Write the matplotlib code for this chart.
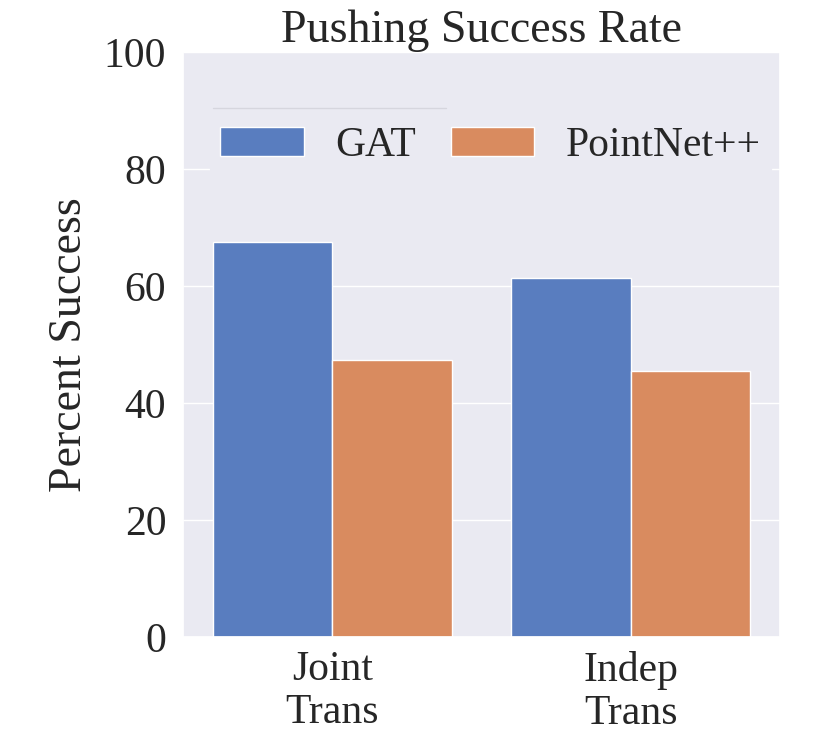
import matplotlib
matplotlib.use("Agg")
import matplotlib.pyplot as plt
import numpy as np
import seaborn as sns

categories = ["Joint\nTrans", "Indep\nTrans"]
methods = ["GAT", "PointNet++"]
success = {
    "GAT": [67.5, 61.4],
    "PointNet++": [47.3, 45.5],
}
y_ticks = [0, 20, 40, 60, 80, 100]

sns.set_theme(style="darkgrid")
plt.rcParams["font.family"] = ["Liberation Serif", "DejaVu Serif"]

palette = [sns.desaturate(c, 0.75) for c in sns.color_palette("muted", 2)]

fig = plt.figure(figsize=(8.3, 7.35), dpi=100)
ax = fig.add_axes([0.2205, 0.1333, 0.7193, 0.7960])

x = np.arange(len(categories))
width = 0.4
for k, (method, color) in enumerate(zip(methods, palette)):
    offset = (k - 0.5) * width
    ax.bar(x + offset, success[method], width, color=color, label=method,
           edgecolor="white", linewidth=1.0)

ax.set_xlim(-0.5, len(categories) - 0.5)
ax.set_ylim(0, 100)
ax.set_yticks(y_ticks)
ax.set_xticks(x, categories)
ax.grid(False, axis="x")
ax.tick_params(axis="y", labelsize=30, pad=6)
ax.tick_params(axis="x", labelsize=30, pad=4)
for lbl in ax.get_xticklabels():
    lbl.set_linespacing(1.15)
ax.set_ylabel("Percent Success", fontsize=33, labelpad=9)
ax.set_title("Pushing Success Rate", fontsize=33, pad=7)

leg = ax.legend(loc="upper left", bbox_to_anchor=(0.045, 0.89), ncol=2,
                fontsize=30, frameon=True, columnspacing=0.85,
                borderaxespad=0, borderpad=0.25, handletextpad=0.75)
leg.get_frame().set_facecolor("#EAEAF2")
leg.get_frame().set_edgecolor("#EAEAF2")
leg.get_frame().set_alpha(1.0)
# faint line left above the legend in the original
ax.plot([0.05, 0.44], [0.905, 0.905], transform=ax.transAxes,
        color="#D6D6DE", linewidth=1.0, zorder=6)

fig.savefig("out.png", dpi=100)
